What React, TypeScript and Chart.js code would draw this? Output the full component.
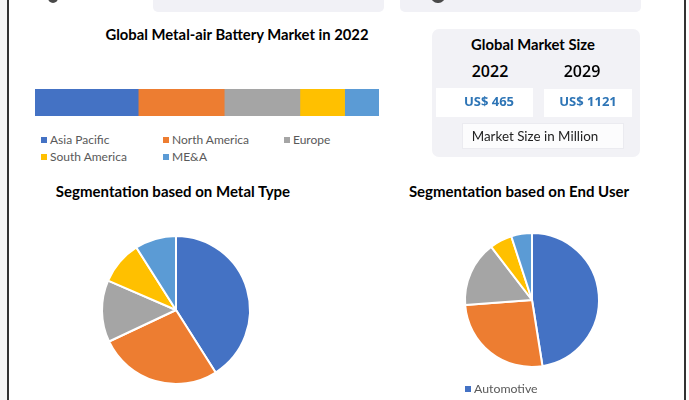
import React, { useEffect, useRef } from "react";
import { Chart, registerables } from "chart.js";

Chart.register(...registerables);

// ---- data ----
const regions = ["Asia Pacific", "North America", "Europe", "South America", "ME&A"];
const regionShares = [30, 25, 22, 13, 10];
const officeColors = ["#4472C4", "#ED7D31", "#A5A5A5", "#FFC000", "#5B9BD5"];

const metalTypes = ["Zinc-air", "Lithium-air", "Aluminium-air", "Iron-air", "Others"];
const metalShares = [41, 27, 13.5, 9.5, 9];

const endUsers = ["Automotive", "Portable Electronics", "Energy Storage", "Military", "Others"];
const endUserShares = [47.5, 26.3, 15.8, 5.4, 5];

const marketYears = ["2022", "2029"];
const marketValues = [465, 1121];

const bold = "Lato, 'Open Sans', sans-serif";

function RegionBar() {
  const ref = useRef<HTMLCanvasElement>(null);
  useEffect(() => {
    const chart = new Chart(ref.current!, {
      type: "bar",
      data: {
        labels: ["2022"],
        datasets: regions.map((r, i) => ({
          label: r,
          data: [regionShares[i]],
          backgroundColor: officeColors[i],
          borderWidth: 0,
          barPercentage: 1,
          categoryPercentage: 1,
        })),
      },
      options: {
        indexAxis: "y",
        responsive: false,
        animation: false,
        layout: { padding: 0 },
        plugins: { legend: { display: false }, tooltip: { enabled: false } },
        scales: {
          x: { stacked: true, display: false, min: 0, max: 100 },
          y: { stacked: true, display: false },
        },
      },
    });
    return () => chart.destroy();
  }, []);
  return (
    <canvas
      ref={ref}
      width={344}
      height={27}
      style={{ position: "absolute", left: 35, top: 89, width: 344, height: 27 }}
    />
  );
}

function PieChart(props: { labels: string[]; values: number[]; cx: number; cy: number; radius: number }) {
  const ref = useRef<HTMLCanvasElement>(null);
  const size = 170;
  useEffect(() => {
    const chart = new Chart(ref.current!, {
      type: "pie",
      data: {
        labels: props.labels,
        datasets: [
          {
            data: props.values,
            backgroundColor: officeColors,
            borderColor: "#ffffff",
            borderWidth: 2,
          },
        ],
      },
      options: {
        responsive: false,
        animation: false,
        radius: props.radius,
        layout: { padding: 0 },
        plugins: { legend: { display: false }, tooltip: { enabled: false } },
      } as any,
    });
    return () => chart.destroy();
  }, []);
  return (
    <canvas
      ref={ref}
      width={size}
      height={size}
      style={{
        position: "absolute",
        left: props.cx - size / 2,
        top: props.cy - size / 2,
        width: size,
        height: size,
      }}
    />
  );
}

function Text(props: {
  cx?: number;
  left?: number;
  top: number;
  size: number;
  weight?: number;
  color?: string;
  family?: string;
  children: React.ReactNode;
}) {
  const w = 400;
  const style: React.CSSProperties = {
    position: "absolute",
    top: props.top,
    fontSize: props.size,
    lineHeight: Math.round(props.size * 1.2) + "px",
    fontWeight: props.weight ?? 400,
    color: props.color ?? "#000",
    fontFamily: props.family ?? bold,
    whiteSpace: "nowrap",
  };
  if (props.cx !== undefined) {
    style.left = props.cx - w / 2;
    style.width = w;
    style.textAlign = "center";
  } else {
    style.left = props.left;
  }
  return <div style={style}>{props.children}</div>;
}

function LegendItem(props: { left: number; top: number; color: string; label: string; size: number }) {
  return (
    <div
      style={{
        position: "absolute",
        left: props.left,
        top: props.top,
        display: "flex",
        alignItems: "center",
        fontFamily: bold,
        fontSize: props.size,
        lineHeight: "14px",
        color: "#595959",
        whiteSpace: "nowrap",
      }}
    >
      <span style={{ display: "inline-block", width: 6, height: 6, background: props.color, marginRight: 3 }} />
      {props.label}
    </div>
  );
}

const legendCols = [41, 163, 284];

export default function App() {
  return (
    <div
      style={{
        position: "absolute",
        left: 0,
        top: 0,
        width: 689,
        height: 400,
        overflow: "hidden",
        background: "#ffffff",
      }}
    >
      {/* frame */}
      <div style={{ position: "absolute", left: 0, top: 0, width: 7, height: 400, background: "#f6f6f6" }} />
      <div style={{ position: "absolute", left: 7, top: 0, width: 1.5, height: 400, background: "#333" }} />
      <div style={{ position: "absolute", left: 684, top: 0, width: 1.5, height: 400, background: "#333" }} />
      {/* partially visible top boxes and icons */}
      <div style={{ position: "absolute", left: 153, top: -6, width: 231, height: 18, borderRadius: 5, background: "#f1f1f6" }} />
      <div style={{ position: "absolute", left: 400, top: -6, width: 241, height: 18, borderRadius: 5, background: "#f1f1f6" }} />
      <div style={{ position: "absolute", left: 48, top: -8, width: 10, height: 11, borderRadius: 5, background: "#4a4a4a" }} />
      <div style={{ position: "absolute", left: 431, top: -10, width: 14, height: 13, borderRadius: 7, background: "#4a4a4a" }} />

      {/* region bar */}
      <Text cx={237} top={25} size={14.8} weight={700}>
        Global Metal-air Battery Market in 2022
      </Text>
      <RegionBar />
      {regions.map((r, i) => (
        <LegendItem
          key={r}
          left={legendCols[i % 3]}
          top={133 + Math.floor(i / 3) * 17}
          color={officeColors[i]}
          label={r}
          size={12}
        />
      ))}

      {/* market size panel */}
      <div style={{ position: "absolute", left: 432, top: 29, width: 208, height: 128, borderRadius: 7, background: "#f2f2f6" }} />
      <Text cx={533} top={35} size={14.8} weight={700}>
        Global Market Size
      </Text>
      <div style={{ position: "absolute", left: 436, top: 88, width: 97, height: 29, background: "#fff" }} />
      <div style={{ position: "absolute", left: 544, top: 89, width: 88, height: 28, background: "#fff" }} />
      {marketYears.map((y, i) => (
        <React.Fragment key={y}>
          <Text cx={[490, 582][i]} top={62} size={16} weight={600} family="'Open Sans', sans-serif">
            {y}
          </Text>
          <Text cx={[489, 588][i]} top={93} size={13} weight={700} color="#2E75B6" family="'Open Sans', sans-serif">
            {"US$ " + marketValues[i]}
          </Text>
        </React.Fragment>
      ))}
      <div
        style={{
          position: "absolute",
          left: 462,
          top: 123,
          width: 160,
          height: 24,
          background: "#fcfcfd",
          border: "1px solid #ebebf0",
        }}
      />
      <Text cx={535} top={128} size={13.4} color="#222">
        Market Size in Million
      </Text>

      {/* pies */}
      <Text cx={173} top={182} size={15} weight={700}>
        Segmentation based on Metal Type
      </Text>
      <PieChart labels={metalTypes} values={metalShares} cx={176} cy={310} radius={74} />

      <Text cx={519} top={182} size={15} weight={700}>
        Segmentation based on End User
      </Text>
      <PieChart labels={endUsers} values={endUserShares} cx={532} cy={300} radius={67} />
      {endUsers.slice(0, 2).map((u, i) => (
        <LegendItem key={u} left={465} top={382 + i * 17} color={officeColors[i]} label={u} size={12.3} />
      ))}
    </div>
  );
}
